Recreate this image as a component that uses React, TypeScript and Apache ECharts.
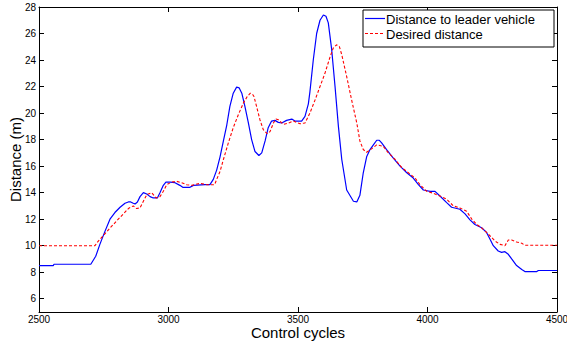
import React, { useEffect, useRef } from "react";
import * as echarts from "echarts";

const xTicks = [2500, 3000, 3500, 4000, 4500];
const yTicks = [6, 8, 10, 12, 14, 16, 18, 20, 22, 24, 26, 28];

const blueX = [2500, 2555, 2558, 2700, 2719, 2735, 2755, 2774, 2793, 2813, 2832, 2845, 2854, 2864, 2871, 2880, 2890, 2903, 2916, 2929, 2941, 2957, 2967, 2980, 2990, 3006, 3025, 3044, 3055, 3083, 3096, 3141, 3160, 3173, 3186, 3199, 3212, 3225, 3237, 3250, 3263, 3273, 3283, 3295, 3308, 3321, 3334, 3349, 3360, 3373, 3385, 3398, 3411, 3424, 3437, 3456, 3476, 3488, 3514, 3527, 3540, 3546, 3559, 3572, 3585, 3598, 3608, 3617, 3630, 3643, 3656, 3669, 3688, 3714, 3727, 3739, 3752, 3765, 3778, 3791, 3804, 3814, 3823, 3842, 3868, 3894, 3920, 3945, 3965, 3984, 4010, 4029, 4048, 4074, 4093, 4125, 4145, 4164, 4183, 4209, 4228, 4241, 4254, 4273, 4286, 4299, 4312, 4325, 4344, 4364, 4376, 4422, 4428, 4500];
const blueY = [8.5, 8.5, 8.6, 8.6, 9.2, 10.1, 11.1, 12.0, 12.5, 12.9, 13.2, 13.3, 13.3, 13.2, 13.15, 13.3, 13.7, 14.0, 13.9, 13.7, 13.6, 13.6, 14.0, 14.55, 14.8, 14.8, 14.75, 14.55, 14.4, 14.4, 14.55, 14.6, 14.6, 15.0, 15.7, 16.7, 17.9, 19.1, 20.5, 21.5, 21.96, 21.9, 21.5, 20.5, 19.3, 18.0, 17.1, 16.8, 17.0, 17.9, 18.9, 19.4, 19.45, 19.3, 19.25, 19.45, 19.55, 19.4, 19.4, 19.75, 20.7, 21.6, 24.0, 26.0, 27.0, 27.4, 27.3, 26.8, 24.8, 22.0, 19.0, 16.5, 14.2, 13.35, 13.3, 13.8, 15.5, 16.7, 17.25, 17.6, 17.95, 17.95, 17.75, 17.25, 16.6, 16.0, 15.5, 15.1, 14.6, 14.2, 14.1, 14.1, 13.75, 13.25, 12.9, 12.75, 12.4, 11.95, 11.6, 11.35, 11.0, 10.5, 10.0, 9.6, 9.5, 9.55, 9.35, 9.0, 8.5, 8.2, 8.05, 8.05, 8.13, 8.13];

const redX = [2500, 2716, 2729, 2748, 2768, 2787, 2806, 2826, 2845, 2864, 2877, 2890, 2903, 2916, 2935, 2952, 2967, 2980, 2993, 3012, 3032, 3051, 3070, 3090, 3122, 3148, 3178, 3186, 3199, 3212, 3231, 3250, 3270, 3289, 3304, 3316, 3325, 3330, 3340, 3353, 3366, 3381, 3392, 3405, 3415, 3424, 3443, 3463, 3482, 3508, 3527, 3546, 3566, 3585, 3604, 3624, 3636, 3649, 3660, 3669, 3688, 3707, 3727, 3739, 3752, 3765, 3784, 3804, 3829, 3849, 3875, 3900, 3926, 3952, 3971, 3997, 4023, 4048, 4074, 4100, 4125, 4151, 4171, 4190, 4209, 4228, 4241, 4261, 4280, 4299, 4312, 4325, 4344, 4364, 4376, 4500];
const redY = [10, 10, 10.35, 10.75, 11.2, 11.6, 12.0, 12.4, 12.8, 13.0, 12.8, 12.85, 13.35, 13.85, 14.0, 13.6, 13.7, 14.1, 14.6, 14.8, 14.85, 14.75, 14.6, 14.55, 14.7, 14.6, 14.6, 15.0, 15.6, 16.5, 17.75, 18.9, 19.9, 20.75, 21.25, 21.5, 21.4, 21.25, 20.5, 19.5, 18.75, 18.45, 18.6, 19.25, 19.55, 19.5, 19.15, 19.25, 19.4, 19.2, 19.25, 20.0, 21.0, 22.0, 23.0, 24.25, 24.9, 25.15, 25.0, 24.4, 22.75, 21.0, 19.25, 17.9, 17.25, 17.05, 17.3, 17.6, 17.5, 17.0, 16.5, 15.9, 15.5, 15.1, 14.6, 14.1, 13.95, 13.75, 13.5, 13.0, 12.85, 12.6, 12.0, 11.6, 11.35, 11.0, 10.75, 10.35, 10.1, 10.0, 10.43, 10.43, 10.28, 10.18, 10.03, 10.03];

const seriesNames = ["Distance to leader vehicle", "Desired distance"];

const FONT = "Liberation Sans, Arial, sans-serif";

export default function App() {
  const ref = useRef<HTMLDivElement>(null);
  useEffect(() => {
    if (!ref.current) return;
    const chart = echarts.init(ref.current, undefined, { renderer: "svg" });
    const axisLine = { show: true, lineStyle: { color: "#000", width: 1 } };
    const tick = { show: true, inside: true, length: 5, lineStyle: { color: "#000", width: 1 } };
    chart.setOption({
      animation: false,
      backgroundColor: "#fff",
      grid: { left: 39, right: 10, top: 7, bottom: 33, outerBoundsMode: "none", containLabel: false },
      xAxis: [
        {
          type: "value",
          min: xTicks[0],
          max: xTicks[xTicks.length - 1],
          interval: 500,
          position: "bottom",
          axisLine,
          axisTick: { ...tick, customValues: xTicks },
          splitLine: { show: false },
          axisLabel: {
            color: "#000",
            fontSize: 10,
            lineHeight: 10,
            fontFamily: FONT,
            margin: 2,
            customValues: xTicks,
            formatter: (v: number) => String(v),
          },
          name: "Control cycles",
          nameLocation: "middle",
          nameGap: 13,
          nameMoveOverlap: false,
          nameTextStyle: { color: "#000", fontSize: 15, lineHeight: 15, fontFamily: FONT },
        },
        {
          type: "value",
          min: xTicks[0],
          max: xTicks[xTicks.length - 1],
          interval: 500,
          position: "top",
          axisLine,
          axisTick: { ...tick, customValues: xTicks },
          splitLine: { show: false },
          axisLabel: { show: false },
        },
      ],
      yAxis: [
        {
          type: "value",
          min: 5,
          max: 28,
          position: "left",
          axisLine,
          axisTick: { ...tick, customValues: yTicks },
          splitLine: { show: false },
          axisLabel: { color: "#000", fontSize: 10, fontFamily: FONT, margin: 3, customValues: yTicks },
          name: "Distance (m)",
          nameLocation: "middle",
          nameGap: 16,
          nameMoveOverlap: false,
          nameTextStyle: { color: "#000", fontSize: 15, fontFamily: FONT },
        },
        {
          type: "value",
          min: 5,
          max: 28,
          position: "right",
          axisLine,
          axisTick: { ...tick, customValues: yTicks },
          splitLine: { show: false },
          axisLabel: { show: false, customValues: yTicks },
        },
      ],
      series: [
        {
          name: seriesNames[0],
          type: "line",
          data: blueX.map((x, i) => [x, blueY[i]]),
          showSymbol: false,
          symbol: "none",
          lineStyle: { color: "#0000ff", width: 1.2 },
          z: 3,
        },
        {
          name: seriesNames[1],
          type: "line",
          data: redX.map((x, i) => [x, redY[i]]),
          showSymbol: false,
          symbol: "none",
          lineStyle: { color: "#ff0000", width: 1.1, type: [3, 2] },
          z: 4,
        },
      ],
      graphic: [
        {
          type: "rect",
          shape: { x: 363, y: 10, width: 191, height: 37 },
          style: { fill: "#fff", stroke: "#000", lineWidth: 1 },
          z: 10,
        },
        {
          type: "line",
          shape: { x1: 365, y1: 18.5, x2: 385, y2: 18.5 },
          style: { stroke: "#0000ff", lineWidth: 1.2 },
          z: 11,
        },
        {
          type: "line",
          shape: { x1: 365, y1: 33.5, x2: 385, y2: 33.5 },
          style: { stroke: "#ff0000", lineWidth: 1.1, lineDash: [3, 2] },
          z: 11,
        },
        {
          type: "text",
          x: 386,
          y: 19,
          style: { text: seriesNames[0], fill: "#000", font: "13px " + FONT, textVerticalAlign: "middle" },
          z: 11,
        },
        {
          type: "text",
          x: 386,
          y: 34,
          style: { text: seriesNames[1], fill: "#000", font: "13px " + FONT, textVerticalAlign: "middle" },
          z: 11,
        },
      ],
    });
    return () => chart.dispose();
  }, []);
  return <div ref={ref} style={{ width: 567, height: 345, position: "absolute", left: 0, top: 0 }} />;
}
